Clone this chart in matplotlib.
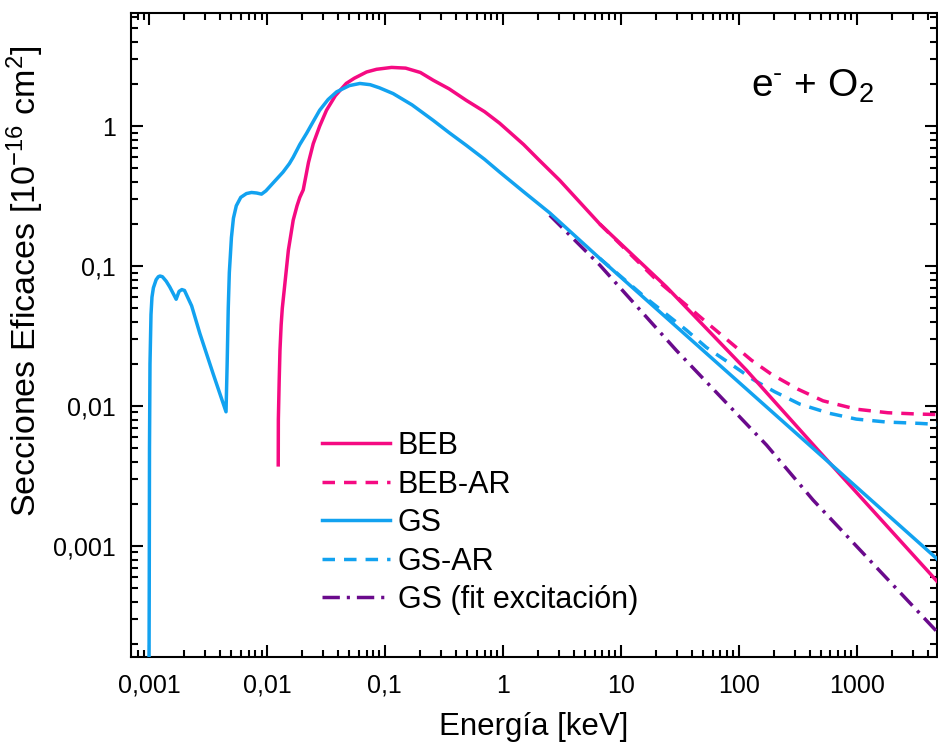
import matplotlib
matplotlib.use('Agg')
import matplotlib.pyplot as plt
from matplotlib.ticker import FixedLocator, FuncFormatter, NullFormatter

plt.rcParams['font.family'] = ['Liberation Sans', 'DejaVu Sans']
plt.rcParams['mathtext.fontset'] = 'custom'
plt.rcParams['mathtext.rm'] = 'Liberation Sans'
plt.rcParams['mathtext.default'] = 'regular'

# cross sections, energy in keV and sigma in 1e-16 cm^2
gs_E = [0.00100, 0.001005, 0.00101, 0.00102, 0.00104, 0.00106, 0.00109, 0.00115,
        0.0012, 0.00124, 0.0013, 0.0014, 0.0015, 0.0016, 0.0017, 0.00175, 0.0018,
        0.0019, 0.002, 0.0023, 0.0027, 0.0035, 0.0045,
        0.0046, 0.0047, 0.0048, 0.0049, 0.005, 0.0052, 0.0055, 0.006, 0.0067,
        0.0074, 0.0082, 0.009, 0.0098, 0.0115, 0.0137, 0.0155, 0.0167, 0.019,
        0.0217, 0.025, 0.028, 0.033, 0.039, 0.05, 0.0614, 0.075, 0.09, 0.1175,
        0.17, 0.257, 0.35, 0.49, 0.7, 0.94, 1.5, 2.5,
        6.64, 16.5, 36, 427, 4800]
gs_s = [1.0e-4, 0.0005, 0.005, 0.02, 0.045, 0.06, 0.07, 0.08,
        0.084, 0.085, 0.084, 0.078, 0.071, 0.064, 0.058, 0.062, 0.066,
        0.068, 0.067, 0.052, 0.033, 0.017, 0.0091,
        0.02, 0.05, 0.09, 0.12, 0.16, 0.22, 0.27, 0.31, 0.33,
        0.336, 0.333, 0.327, 0.345, 0.40, 0.47, 0.54, 0.60, 0.74,
        0.89, 1.1, 1.30, 1.55, 1.76, 1.95, 2.02, 1.98, 1.88, 1.71,
        1.42, 1.10, 0.9, 0.73, 0.58, 0.47, 0.34, 0.24,
        0.1135, 0.0573, 0.0319, 0.00499, 0.00081]

beb_E = [0.01247, 0.0125, 0.0127, 0.0129, 0.0132, 0.0135, 0.0142, 0.0152, 0.016,
         0.0167, 0.018, 0.019, 0.0203, 0.0215, 0.0225, 0.0247, 0.028, 0.032,
         0.038, 0.047, 0.055, 0.07, 0.085, 0.114, 0.15, 0.2, 0.257, 0.35, 0.49,
         0.7, 0.94, 1.5, 2.0, 3.04, 6.64, 24.4, 116, 470, 4800]
beb_s = [0.0038, 0.008, 0.015, 0.025, 0.038, 0.05, 0.075, 0.13, 0.17,
         0.213, 0.27, 0.31, 0.35, 0.45, 0.55, 0.75, 1.0, 1.30,
         1.65, 2.02, 2.2, 2.44, 2.55, 2.63, 2.6, 2.42, 2.13, 1.85, 1.53,
         1.27, 1.05, 0.74, 0.58, 0.41, 0.20, 0.071, 0.0181, 0.00485, 0.00056]

# relativistic versions only depart from the above at high energy
beb_ar_E = [6.64, 20, 36, 56.8, 86.6, 128, 189, 318, 519, 993, 1840, 3310, 4800]
beb_ar_s = [0.20, 0.080, 0.0526, 0.0379, 0.0281, 0.0213, 0.0169, 0.0132, 0.0109,
            0.0095, 0.00896, 0.00877, 0.0087]

gs_ar_E = [6.64, 16.5, 36, 53.3, 84, 132, 202, 329, 590, 993, 1786, 3420, 4800]
gs_ar_s = [0.1135, 0.0588, 0.0349, 0.0262, 0.0202, 0.0155, 0.01265, 0.01033,
           0.00887, 0.00807, 0.00769, 0.00752, 0.0074]

fit_E = [2.5, 6.64, 29.6, 172, 427, 4800]
fit_s = [0.231, 0.1017, 0.025, 0.00527, 0.00213, 0.000244]

x_major = [0.001, 0.01, 0.1, 1, 10, 100, 1000]
y_major = [0.001, 0.01, 0.1, 1]

pink = '#F50A82'
blue = '#12A2F0'
purple = '#6A0A8C'

fig = plt.figure(figsize=(9.38, 7.47), dpi=100)
ax = fig.add_axes([0.13966, 0.12048, 0.85928, 0.86212])

lw = 2.5
dash = (0, (3.6, 2.6))
ax.plot(beb_E, beb_s, color=pink, lw=lw, label='BEB', zorder=5)
ax.plot(beb_ar_E, beb_ar_s, color=pink, lw=lw, ls=dash, label='BEB-AR', zorder=4)
ax.plot(gs_E, gs_s, color=blue, lw=lw, label='GS', zorder=5)
ax.plot(gs_ar_E, gs_ar_s, color=blue, lw=lw, ls=dash, label='GS-AR', zorder=4)
ax.plot(fit_E, fit_s, color=purple, lw=lw, ls=(0, (5, 2, 0.9, 2)),
        label='GS (fit excitación)', zorder=3)

ax.set_xscale('log')
ax.set_yscale('log')
ax.set_xlim(7.04e-4, 4.8e3)
ax.set_ylim(1.61e-4, 6.44)

# minor ticks at 2..9 times each decade, kept inside the limits
x_minor = [m * 10.0 ** k for k in range(-4, 4) for m in range(2, 10)
           if 7.04e-4 <= m * 10.0 ** k <= 4.8e3]
y_minor = [m * 10.0 ** k for k in range(-4, 1) for m in range(2, 10)
           if 1.61e-4 <= m * 10.0 ** k <= 6.44]

comma = FuncFormatter(lambda v, p: f'{v:g}'.replace('.', ','))
ax.xaxis.set_major_locator(FixedLocator(x_major))
ax.yaxis.set_major_locator(FixedLocator(y_major))
ax.xaxis.set_minor_locator(FixedLocator(x_minor))
ax.yaxis.set_minor_locator(FixedLocator(y_minor))
ax.xaxis.set_major_formatter(comma)
ax.yaxis.set_major_formatter(comma)
ax.xaxis.set_minor_formatter(NullFormatter())
ax.yaxis.set_minor_formatter(NullFormatter())

ax.tick_params(which='both', direction='in', top=True, right=True, width=1.5)
ax.tick_params(which='major', length=8.4, labelsize=18, pad=11)
ax.tick_params(axis='x', which='major', pad=12)
ax.tick_params(which='minor', length=4.8)
for sp in ax.spines.values():
    sp.set_linewidth(1.5)

ax.set_xlabel('Energía [keV]', fontsize=22.5, labelpad=10)
ax.set_ylabel(r'Secciones Eficaces [10$^{-16}$ cm$^2$]', fontsize=24.5)
ax.yaxis.set_label_coords(-0.105, 0.584)

ax.text(0.845, 0.870, r'e$^{\text{-}}$ + O$_2$', transform=ax.transAxes,
        fontsize=28, ha='center', va='baseline')

ax.legend(loc='upper left', bbox_to_anchor=(0.237, 0.351), frameon=False,
          fontsize=22, handlelength=2.22, handletextpad=0.26, labelspacing=0.28,
          borderpad=0, borderaxespad=0)

fig.savefig('out.png', dpi=100)
